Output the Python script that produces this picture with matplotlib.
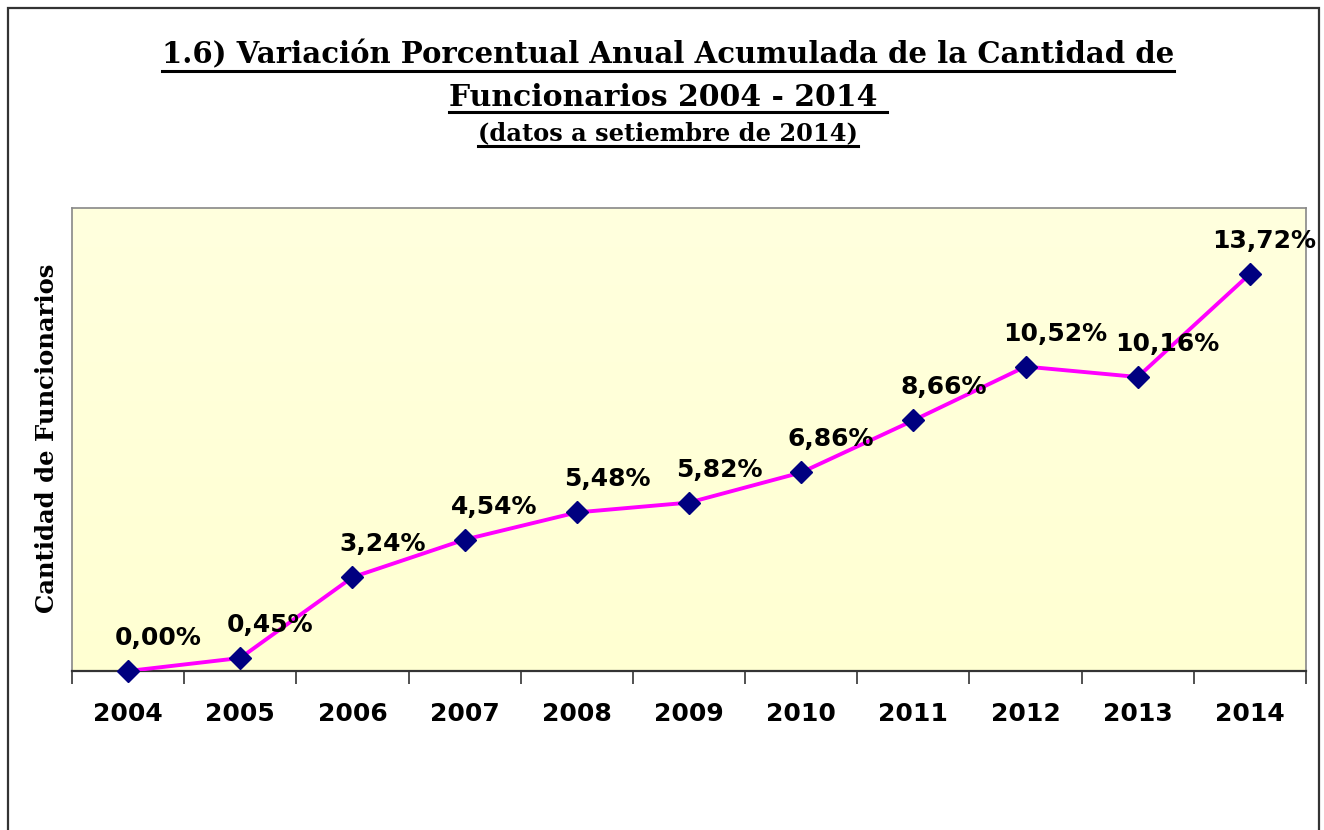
import numpy as np
import matplotlib
matplotlib.use('Agg')
import matplotlib.pyplot as plt
from matplotlib.lines import Line2D
from matplotlib.patches import Rectangle

# data
years = ['2004', '2005', '2006', '2007', '2008', '2009',
         '2010', '2011', '2012', '2013', '2014']
values = [0.00, 0.45, 3.24, 4.54, 5.48, 5.82, 6.86, 8.66, 10.52, 10.16, 13.72]
labels = ['0,00%', '0,45%', '3,24%', '4,54%', '5,48%', '5,82%',
          '6,86%', '8,66%', '10,52%', '10,16%', '13,72%']

title_lines = ['1.6) Variación Porcentual Anual Acumulada de la Cantidad de',
               'Funcionarios 2004 - 2014 ',
               '(datos a setiembre de 2014)']
ylabel = 'Cantidad de Funcionarios'

W, H = 1324, 830
fig = plt.figure(figsize=(W / 100, H / 100), dpi=100)

# outer border (bottom edge cut off like the reference)
fig.add_artist(Rectangle((8 / W, -0.05), 1311 / W, 1.05 - 8 / H,
                         transform=fig.transFigure, fill=False,
                         edgecolor='#333333', lw=1.6))

ax = fig.add_axes([72 / W, 1 - 671 / H, (1306 - 72) / W, (671 - 208) / H])

# light yellow background, slightly darker at the bottom
grad = np.linspace(0, 1, 256).reshape(-1, 1)
cmap = matplotlib.colors.LinearSegmentedColormap.from_list('bg', ['#FFFFD2', '#FFFFDE'])
ax.imshow(grad, extent=[0, 1, 0, 1], transform=ax.transAxes, aspect='auto',
          origin='lower', cmap=cmap, zorder=0)

x = np.arange(len(years))
ax.plot(x, values, color='#FF00FF', lw=2.8, zorder=3)
ax.plot(x, values, ls='none', marker='D', ms=11, color='#000080', zorder=4, clip_on=False)

for i, (xi, v, lab) in enumerate(zip(x, values, labels)):
    dx = 14 if i == len(x) - 1 else 30   # last label pushed in by the frame
    ax.annotate(lab, (xi, v), xytext=(dx, 33), textcoords='offset pixels',
                ha='center', va='center', fontsize=18, fontweight='bold',
                family='DejaVu Sans', color='black', zorder=5, annotation_clip=False)

ax.set_xlim(-0.5, len(years) - 0.5)
ax.set_ylim(0, 16)
ax.set_yticks([])
ax.set_xticks(x)
ax.set_xticklabels(years, fontsize=18, fontweight='bold', family='DejaVu Sans')
ax.tick_params(axis='x', length=0, pad=22)
# category boundary ticks
ax.set_xticks(np.arange(len(years) + 1) - 0.5, minor=True)
ax.tick_params(axis='x', which='minor', length=9, width=1.2, color='#333333', direction='out')

for side in ['top', 'left', 'right']:
    ax.spines[side].set_color('#888888')
    ax.spines[side].set_linewidth(1.2)
ax.spines['bottom'].set_color('#333333')
ax.spines['bottom'].set_linewidth(1.6)

fig.text(47 / W, 1 - 438 / H, ylabel, rotation=90, ha='center', va='center',
         fontsize=17.5, fontweight='bold', family='DejaVu Serif')

# title with underlines
title_y = [55, 97, 133]
title_size = [21, 21.5, 17.4]
title_texts = []
for line, yy, fs in zip(title_lines, title_y, title_size):
    t = fig.text(0.5045, 1 - yy / H, line, ha='center', va='center',
                 fontsize=fs, fontweight='bold', family='DejaVu Serif')
    title_texts.append(t)

fig.canvas.draw()
renderer = fig.canvas.get_renderer()
for t in title_texts:
    bb = t.get_window_extent(renderer)
    yline = bb.y0 - 1
    fig.add_artist(Line2D([bb.x0 / W, bb.x1 / W], [yline / H, yline / H],
                          transform=fig.transFigure, color='black', lw=2.2))

fig.savefig('out.png', dpi=100)
